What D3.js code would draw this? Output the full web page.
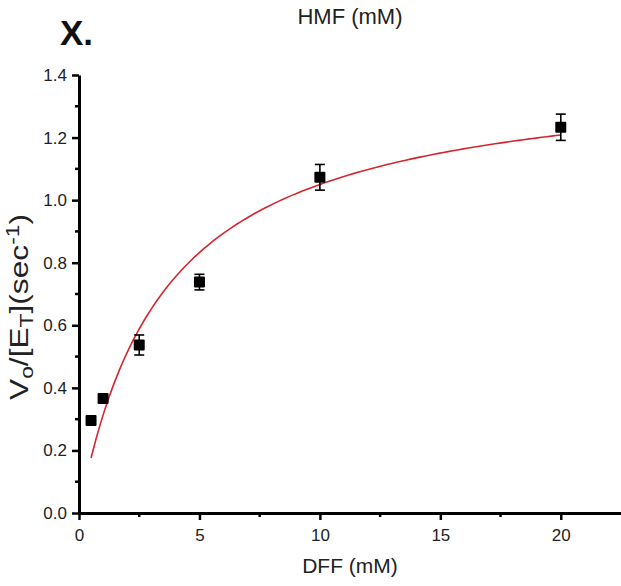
<!DOCTYPE html>
<html>
<head>
<meta charset="utf-8">
<script src="https://cdn.jsdelivr.net/npm/d3@7/dist/d3.min.js"></script>
<style>
  html, body { margin: 0; padding: 0; background: #fff; }
  svg { display: block; font-family: "Liberation Sans", Arial, sans-serif; }
</style>
</head>
<body>
<svg id="chart" width="621" height="586"></svg>
<script>
// Substrate concentrations (mM) and measured turnover (sec^-1) with error
const dffConc   = [0.5, 1, 2.5, 5, 10, 20];
const rate      = [0.296, 0.366, 0.537, 0.738, 1.073, 1.233];
const rateError = [0, 0, 0.032, 0.025, 0.041, 0.042];

// Michaelis–Menten fit parameters
const fitVmax = 1.422;
const fitKm = 3.54;

const xTicks = [0, 5, 10, 15, 20];
const yTicks = [0.0, 0.2, 0.4, 0.6, 0.8, 1.0, 1.2, 1.4];
const xMinorTicks = [2.5, 7.5, 12.5, 17.5];
const yMinorTicks = [0.1, 0.3, 0.5, 0.7, 0.9, 1.1, 1.3];

const svg = d3.select("#chart");

const x = d3.scaleLinear().domain([0, 22.5]).range([79, 621]);
const y = d3.scaleLinear().domain([0, 1.4]).range([513, 75]);

// Axes
const xAxis = d3.axisBottom(x).tickValues(xTicks).tickFormat(d3.format("d"))
  .tickSizeInner(7).tickSizeOuter(0).tickPadding(9);
const yAxis = d3.axisLeft(y).tickValues(yTicks).tickFormat(d3.format(".1f"))
  .tickSizeInner(7).tickSizeOuter(0).tickPadding(5);

const gx = svg.append("g").attr("transform", "translate(0,513)").call(xAxis);
const gy = svg.append("g").attr("transform", "translate(79,0)").call(yAxis);

[gx, gy].forEach(g => {
  g.select(".domain").attr("stroke", "#000").attr("stroke-width", 3);
  g.selectAll(".tick line").attr("stroke", "#000").attr("stroke-width", 2.5);
  g.selectAll(".tick text").attr("fill", "#222").style("font-size", "17px")
    .style("font-family", "'Liberation Sans', Arial, sans-serif");
});

// Minor ticks
svg.append("g").selectAll("line").data(xMinorTicks).join("line")
  .attr("x1", d => x(d)).attr("x2", d => x(d))
  .attr("y1", 513).attr("y2", 517)
  .attr("stroke", "#000").attr("stroke-width", 2.5);
svg.append("g").selectAll("line").data(yMinorTicks).join("line")
  .attr("x1", 79).attr("x2", 75)
  .attr("y1", d => y(d)).attr("y2", d => y(d))
  .attr("stroke", "#000").attr("stroke-width", 2.5);

// Fitted curve
const fitX = d3.range(0, 101).map(i => dffConc[0] + (dffConc[dffConc.length - 1] - dffConc[0]) * i / 100);
const line = d3.line().x(d => x(d)).y(d => y(fitVmax * d / (fitKm + d)));
svg.append("path").datum(fitX)
  .attr("d", line)
  .attr("fill", "none")
  .attr("stroke", "#d3262f")
  .attr("stroke-width", 1.6);

// Error bars
const pts = dffConc.map((c, i) => ({ c, v: rate[i], e: rateError[i] }));
const eb = svg.append("g").attr("stroke", "#000").attr("stroke-width", 1.6);
pts.filter(p => p.e > 0).forEach(p => {
  eb.append("line").attr("x1", x(p.c)).attr("x2", x(p.c))
    .attr("y1", y(p.v - p.e)).attr("y2", y(p.v + p.e));
  [p.v - p.e, p.v + p.e].forEach(v => {
    eb.append("line").attr("x1", x(p.c) - 5).attr("x2", x(p.c) + 5)
      .attr("y1", y(v)).attr("y2", y(v));
  });
});

// Markers
svg.append("g").selectAll("rect").data(pts).join("rect")
  .attr("x", d => x(d.c) - 5.5).attr("y", d => y(d.v) - 5.5)
  .attr("width", 11).attr("height", 11).attr("rx", 1)
  .attr("fill", "#000");

// Labels
svg.append("text").attr("x", 350).attr("y", 24).attr("text-anchor", "middle")
  .style("font-size", "22px").attr("fill", "#222").text("HMF (mM)");

svg.append("text").attr("x", 60).attr("y", 45)
  .style("font-size", "35px").style("font-weight", "bold").attr("fill", "#111").text("X.");

svg.append("text").attr("x", 350).attr("y", 573).attr("text-anchor", "middle")
  .style("font-size", "21px").attr("fill", "#222").text("DFF (mM)");

const yl = svg.append("text")
  .attr("transform", "translate(28,307) rotate(-90)")
  .attr("text-anchor", "middle")
  .attr("textLength", 186).attr("lengthAdjust", "spacingAndGlyphs")
  .style("font-size", "25px").attr("fill", "#222");
yl.append("tspan").text("V");
yl.append("tspan").attr("dy", 5).style("font-size", "18px").text("o");
yl.append("tspan").attr("dy", -5).text("/[E");
yl.append("tspan").attr("dy", 5).style("font-size", "18px").text("T");
yl.append("tspan").attr("dy", -5).text("](sec");
yl.append("tspan").attr("dy", -9).style("font-size", "18px").text("-1");
yl.append("tspan").attr("dy", 9).text(")");
</script>
</body>
</html>
